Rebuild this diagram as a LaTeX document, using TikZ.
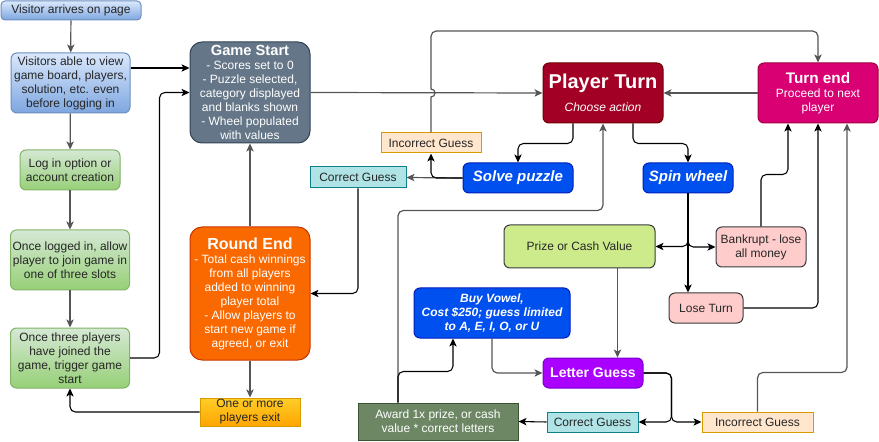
\documentclass[tikz,border=0pt]{standalone}
\usepackage{fontspec}
\setmainfont{Liberation Sans}
\usepackage{xcolor}
\usetikzlibrary{arrows.meta, calc, positioning}
\definecolor{bluetop}{HTML}{DAE8FC}
\definecolor{bluebot}{HTML}{7EA6E0}
\definecolor{blueline}{HTML}{6C8EBF}
\definecolor{greentop}{HTML}{D5E8D4}
\definecolor{greenbot}{HTML}{97D077}
\definecolor{greenline}{HTML}{82B366}
\definecolor{slate}{HTML}{647687}
\definecolor{slateline}{HTML}{314354}
\definecolor{orangefill}{HTML}{FA6800}
\definecolor{orangeline}{HTML}{C73500}
\definecolor{yellowtop}{HTML}{FFCD28}
\definecolor{yellowbot}{HTML}{FFA500}
\definecolor{yellowline}{HTML}{D79B00}
\definecolor{crimson}{HTML}{A20025}
\definecolor{crimsonline}{HTML}{6F0000}
\definecolor{magentafill}{HTML}{D80073}
\definecolor{magentaline}{HTML}{A50040}
\definecolor{peach}{HTML}{FFE6CC}
\definecolor{tealfill}{HTML}{B0E3E6}
\definecolor{tealline}{HTML}{0E8088}
\definecolor{cobalt}{HTML}{0050EF}
\definecolor{cobaltline}{HTML}{001DBC}
\definecolor{limefill}{HTML}{CDEB8B}
\definecolor{darkline}{HTML}{36393D}
\definecolor{pinkfill}{HTML}{FFCCCC}
\definecolor{violet}{HTML}{AA00FF}
\definecolor{violetline}{HTML}{7700CC}
\definecolor{olive}{HTML}{6D8764}
\definecolor{oliveline}{HTML}{3A5431}
\definecolor{lineg}{HTML}{555555}
\tikzset{
    box/.style={rectangle, rounded corners=4.5pt, draw, line width=0.75pt, align=center,
        inner sep=0pt, text=black!85, font=\fontsize{9}{10.5}\selectfont},
    sqbox/.style={box, sharp corners},
    bluebox/.style={box, top color=bluetop, bottom color=bluebot, draw=blueline},
    greenbox/.style={box, top color=greentop, bottom color=greenbot, draw=greenline},
    goldbox/.style={sqbox, top color=yellowtop, bottom color=yellowbot, draw=yellowline},
    bigbox/.style={box, rounded corners=9pt, text=white},
    darkbox/.style={box, text=white},
    wrongbox/.style={sqbox, fill=peach, draw=yellowline},
    rightbox/.style={sqbox, fill=tealfill, draw=tealline},
    actbox/.style={darkbox, fill=cobalt, draw=cobaltline, font=\fontsize{11.25}{13}\selectfont\bfseries\itshape},
    pinkbox/.style={box, fill=pinkfill, draw=darkline},
    arrow/.style={-{Stealth[length=6pt, width=5.5pt, inset=1.5pt]}, line width=0.8pt, rounded corners=4pt},
    garrow/.style={arrow, draw=lineg, line width=0.9pt},
}
\begin{document}
\begin{tikzpicture}[x=0.75pt, y=-0.75pt]
    \useasboundingbox (0,0) rectangle (879,442);
    \node[bluebox, rounded corners=3pt, minimum width=105pt, minimum height=14.25pt] (v1) at (71,10.5) {Visitor arrives on page};
    \node[bluebox, minimum width=89.25pt, minimum height=45pt] (v2) at (70.5,83) {Visitors able to view\\game board, players,\\solution, etc. even\\before logging in};
    \node[greenbox, minimum width=75pt, minimum height=30pt] (login) at (70,170) {Log in option or\\account creation};
    \node[greenbox, minimum width=89.25pt, minimum height=45pt] (join) at (70,260) {Once logged in, allow\\player to join game in\\one of three slots};
    \node[greenbox, minimum width=89.25pt, minimum height=45pt] (trig) at (70,358) {Once three players\\have joined the\\game, trigger game\\start};
    \node[bigbox, fill=slate, draw=slateline, minimum width=90pt, minimum height=75.75pt] (gs) at (250,92.5)
        {{\fontsize{11}{13}\selectfont\bfseries Game Start}\\- Scores set to 0\\- Puzzle selected,\\category displayed\\and blanks shown\\- Wheel populated\\with values};
    \node[bigbox, fill=orangefill, draw=orangeline, minimum width=90pt, minimum height=99.75pt] (re) at (250,293.5)
        {{\fontsize{12}{14.5}\selectfont\bfseries Round End}\\- Total cash winnings\\from all players\\added to winning\\player total\\- Allow players to\\start new game if\\agreed, or exit};
    \node[goldbox, minimum width=75pt, minimum height=21pt] (exit) at (250,412) {One or more\\players exit};
    \node[darkbox, fill=crimson, draw=crimsonline, minimum width=90pt, minimum height=45pt] (pt) at (603,93)
        {{\fontsize{15}{17}\selectfont\bfseries Player Turn}\\[7pt]{\itshape Choose action}};
    \node[darkbox, fill=magentafill, draw=magentaline, minimum width=90pt, minimum height=45pt] (te) at (818,93)
        {{\fontsize{11.5}{13.5}\selectfont\bfseries Turn end}\\Proceed to next\\player};
    \node[wrongbox, minimum width=75pt, minimum height=15pt] (ig1) at (431,143) {Incorrect Guess};
    \node[rightbox, minimum width=72pt, minimum height=15.75pt] (cg1) at (358,177.5) {Correct Guess};
    \node[actbox, minimum width=82.5pt, minimum height=22.5pt] (sp) at (518,178) {Solve puzzle};
    \node[actbox, minimum width=67.5pt, minimum height=22.5pt] (sw) at (688,178) {Spin wheel};
    \node[box, fill=limefill, draw=darkline, minimum width=113.25pt, minimum height=32.25pt] (prize) at (579.5,246.5) {Prize or Cash Value};
    \node[pinkbox, minimum width=67.5pt, minimum height=30pt] (bank) at (761,247) {Bankrupt - lose\\all money};
    \node[pinkbox, minimum width=55.5pt, minimum height=22.5pt] (lose) at (706,308) {Lose Turn};
    \node[actbox, font=\fontsize{9}{10.5}\selectfont\bfseries\itshape, minimum width=117pt, minimum height=37.5pt] (vowel) at (492,313)
        {Buy Vowel,\\Cost \$250; guess limited\\to A, E, I, O, or U};
    \node[darkbox, fill=violet, draw=violetline, font=\fontsize{10.5}{12.5}\selectfont\bfseries, minimum width=75pt, minimum height=22.5pt] (lg) at (593,373) {Letter Guess};
    \node[sqbox, text=white, fill=olive, draw=oliveline, minimum width=120pt, minimum height=27.75pt] (award) at (438,421.5) {Award 1x prize, or cash\\value * correct letters};
    \node[rightbox, minimum width=68.25pt, minimum height=15pt] (cg2) at (592.5,422) {Correct Guess};
    \node[wrongbox, minimum width=83.25pt, minimum height=15pt] (ig2) at (757.5,422) {Incorrect Guess};

    \draw[garrow] (v1) -- (v2);
    \draw[garrow] (v2) -- (login);
    \draw[garrow] (login) -- (join);
    \draw[garrow] (join) -- (trig);
    \draw[arrow] ($(v2.east)+(0,-15)$) coordinate (vs) -- (vs -| gs.west);
    \draw[arrow] (trig.east) -| ($(gs.west)+(-30,0)$) -- (gs.west);
    \draw[garrow] (re) -- (gs);
    \draw[garrow] (re) -- (exit);
    \draw[arrow] (exit.west) -| (trig.south);
    \draw[garrow] (gs.east) -- (pt.west);
    \draw[arrow] ($(pt.south)+(-30,0)$) -- ++(0,20) -| (sp.north);
    \draw[arrow] ($(pt.south)+(30,0)$) -- ++(0,20) -| (sw.north);
    \draw[garrow] (sp.west) -- (cg1.east);
    \draw[arrow] (sp.west) -| (ig1.south);
    \coordinate (hop) at (ig1.north |- pt.west);
    \draw[garrow, sharp corners] (ig1.north) -- ($(hop)+(0,4)$) .. controls +(5.3,0) and +(5.3,0) .. ($(hop)+(0,-4)$)
        [rounded corners=4pt] -- ($(hop)+(0,-62)$) -| (te.north);
    \draw[garrow] (te.west) -- (pt.east);
    \draw[arrow] (cg1.south) |- (re.east);
    \draw[arrow] (sw.south) |- (prize.east);
    \draw[arrow] (sw.south) |- (bank.west);
    \draw[arrow] (sw.south) -- (sw.south |- lose.north);
    \draw[arrow] (bank.north) -- ++(0,-52) -| ($(te.south)+(-30,0)$);
    \draw[arrow] (lose.east) -| (te.south);
    \draw[garrow] (ig2.north) -- ++(0,-39) -| ($(te.south)+(29,0)$);
    \draw[garrow] ($(prize.south)+(38,0)$) coordinate (ps) -- (ps |- lg.north);
    \draw[garrow] (vowel.south) |- (lg.west);
    \draw[arrow] (lg.east) -- ++(28,0) |- (cg2.east);
    \draw[arrow] (lg.east) -- ++(28,0) |- (ig2.west);
    \draw[arrow] (cg2.west) -- (award.east);
    \draw[garrow] ($(award.north)+(-40,0)$) coordinate (aw) -- ++(0,-192) -| (pt.south);
    \draw[arrow] (aw) -- ++(0,-31) -| ($(vowel.south)+(-39,0)$);
\end{tikzpicture}
\end{document}
